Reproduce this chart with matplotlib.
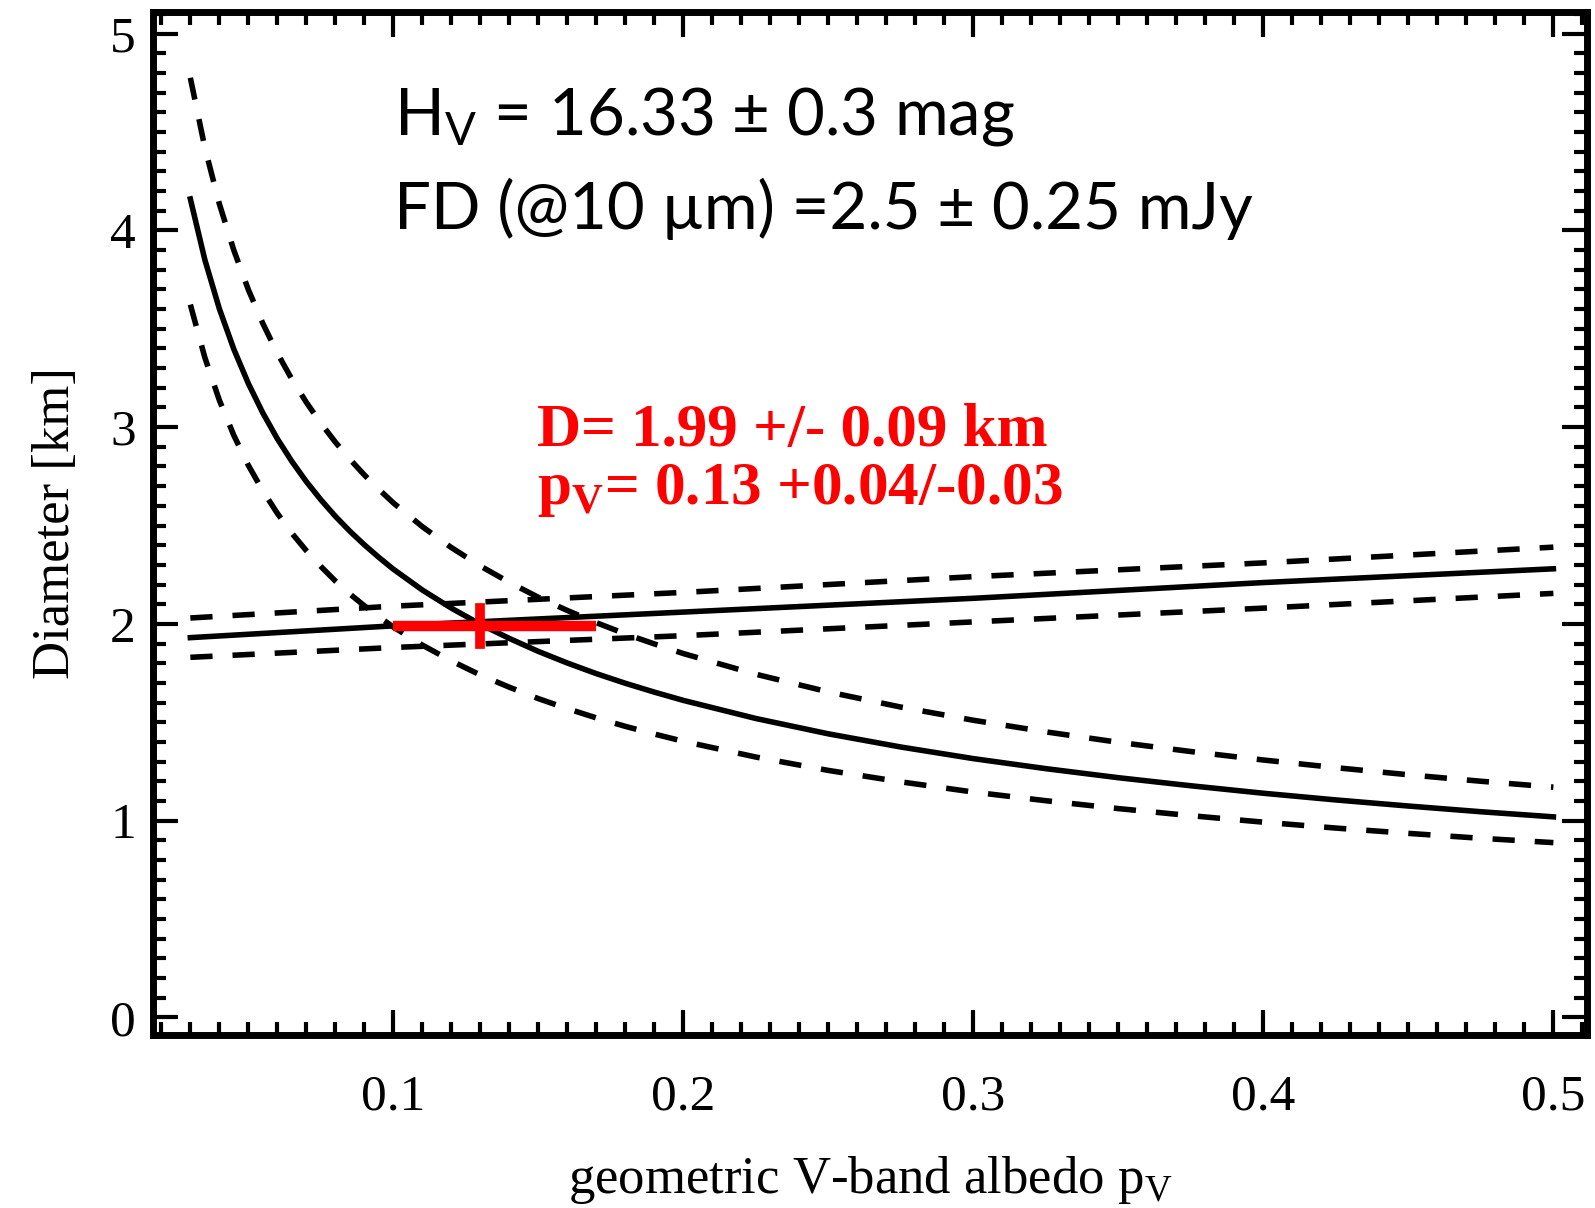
import matplotlib
matplotlib.use("Agg")
import matplotlib.pyplot as plt
from matplotlib.ticker import MultipleLocator

plt.rcParams["mathtext.fontset"] = "custom"
plt.rcParams["mathtext.rm"] = "Liberation Serif"
plt.rcParams["mathtext.bf"] = "Liberation Serif:bold"
plt.rcParams["mathtext.sf"] = "Lato"

# albedo grid
pv_h = [0.03, 0.035, 0.04, 0.045, 0.05, 0.055, 0.06, 0.065, 0.07, 0.075, 0.08,
        0.085, 0.09, 0.095, 0.10, 0.11, 0.12, 0.13, 0.14, 0.15, 0.16, 0.17,
        0.18, 0.19, 0.20, 0.225, 0.25, 0.275, 0.30, 0.325, 0.35, 0.375, 0.40,
        0.425, 0.45, 0.475, 0.50]
d_h = [4.160, 3.851, 3.602, 3.396, 3.222, 3.072, 2.941, 2.826, 2.723, 2.631,
       2.547, 2.471, 2.402, 2.338, 2.278, 2.172, 2.080, 1.998, 1.926, 1.860,
       1.801, 1.747, 1.698, 1.653, 1.611, 1.519, 1.441, 1.374, 1.315, 1.264,
       1.218, 1.177, 1.139, 1.105, 1.074, 1.045, 1.019]
d_h_up = [4.776, 4.421, 4.135, 3.899, 3.699, 3.527, 3.376, 3.244, 3.126, 3.020,
          2.924, 2.837, 2.757, 2.684, 2.615, 2.494, 2.388, 2.294, 2.211, 2.135,
          2.068, 2.006, 1.949, 1.898, 1.849, 1.744, 1.654, 1.577, 1.510, 1.451,
          1.398, 1.351, 1.308, 1.269, 1.233, 1.200, 1.170]
d_h_lo = [3.623, 3.354, 3.137, 2.958, 2.806, 2.676, 2.562, 2.461, 2.372, 2.292,
          2.218, 2.152, 2.092, 2.036, 1.984, 1.892, 1.812, 1.740, 1.678, 1.620,
          1.569, 1.522, 1.479, 1.440, 1.403, 1.323, 1.255, 1.197, 1.145, 1.101,
          1.061, 1.025, 0.992, 0.962, 0.935, 0.910, 0.888]

# thermal (10 micron flux) curves
pv_th = [0.03, 0.10, 0.20, 0.30, 0.40, 0.50]
d_th = [1.93, 1.99, 2.06, 2.13, 2.21, 2.28]
d_th_up = [2.03, 2.09, 2.16, 2.24, 2.31, 2.39]
d_th_lo = [1.83, 1.88, 1.94, 2.01, 2.08, 2.155]

# solution
pv_best = 0.13
pv_range = [0.10, 0.17]
d_best = 1.99
d_range = [1.90, 2.08]

xticks = [0.1, 0.2, 0.3, 0.4, 0.5]
xtick_labels = ["0.1", "0.2", "0.3", "0.4", "0.5"]
yticks = [0, 1, 2, 3, 4, 5]

fig = plt.figure(figsize=(15.95, 12.08), dpi=100)
ax = fig.add_axes([0.0957, 0.1432, 0.8993, 0.8468])

lw = 4.0
dash = (4.0, 3.6)
ax.plot(pv_h, d_h, color="black", lw=lw)
ax.plot(pv_h, d_h_up, color="black", lw=lw, dashes=dash)
ax.plot(pv_h, d_h_lo, color="black", lw=lw, dashes=dash)
ax.plot(pv_th, d_th, color="black", lw=lw)
ax.plot(pv_th, d_th_up, color="black", lw=lw, dashes=dash)
ax.plot(pv_th, d_th_lo, color="black", lw=lw, dashes=dash)

ax.plot(pv_range, [d_best, d_best], color="red", lw=7.5, solid_capstyle="butt")
ax.plot([pv_best, pv_best], d_range, color="red", lw=7)

ax.set_xlim(0.017, 0.5116)
ax.set_ylim(-0.09, 5.11)
ax.set_xticks(xticks)
ax.set_xticklabels(xtick_labels)
ax.set_yticks(yticks)
ax.xaxis.set_minor_locator(MultipleLocator(0.01))
ax.yaxis.set_minor_locator(MultipleLocator(0.1))

for s in ax.spines.values():
    s.set_linewidth(5)
ax.tick_params(which="both", direction="in", top=True, right=True, width=3)
ax.tick_params(which="major", length=18)
ax.tick_params(which="minor", length=9.5)
ax.tick_params(axis="x", which="major", pad=28)
ax.tick_params(axis="y", which="major", pad=12)
for lab in ax.get_xticklabels() + ax.get_yticklabels():
    lab.set_fontfamily("Liberation Serif")
    lab.set_fontsize(37)

ax.set_xlabel(r"geometric V-band albedo p$_\mathrm{V}$", fontfamily="Liberation Serif",
              fontsize=38, labelpad=24)
ax.set_ylabel("Diameter [km]", fontfamily="Liberation Serif", fontsize=38, labelpad=22)

fig.text(394 / 1595, 1 - 135 / 1208, r"H$_\mathsf{V}$ = 16.33 ± 0.3 mag",
         fontfamily="Lato", fontsize=47, va="baseline", ha="left")
fig.text(394 / 1595, 1 - 229 / 1208, "FD (@10 µm) =2.5 ± 0.25 mJy",
         fontfamily="Lato", fontsize=47, va="baseline", ha="left")

fig.text(537 / 1595, 1 - 446 / 1208, "D= 1.99 +/- 0.09 km", color="red",
         fontfamily="Liberation Serif", fontweight="bold", fontsize=44,
         va="baseline", ha="left")
fig.text(537 / 1595, 1 - 504 / 1208, r"p$_\mathbf{V}$= 0.13 +0.04/-0.03", color="red",
         fontfamily="Liberation Serif", fontweight="bold", fontsize=44,
         va="baseline", ha="left")

fig.savefig("out.png", dpi=100)
